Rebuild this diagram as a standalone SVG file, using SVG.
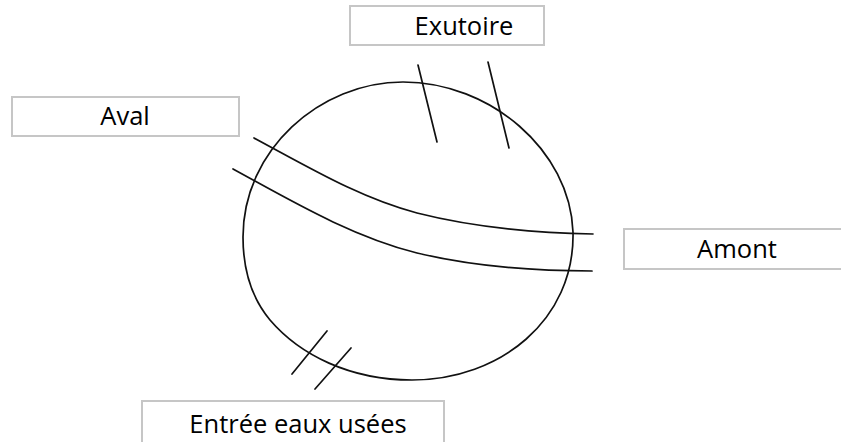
<svg xmlns="http://www.w3.org/2000/svg" width="841" height="442" viewBox="0 0 841 442">
<style>
.box{fill:#fff;stroke:#c6c6c6;stroke-width:2}
.lbl{font-family:"Open Sans","Liberation Sans",sans-serif;font-size:25.5px;fill:#000;text-anchor:middle}
.ln{fill:none;stroke:#111;stroke-width:1.7;stroke-linecap:round}
</style>
<rect width="841" height="442" fill="#fff"/>
<g id="site">
<path class="ln" d="M403,82 C490,82 570,150 573,232 C575,320 500,380 412,380 C350,380 300,355 270,320 C250,296 243,265 243,237 C243,150 320,82 403,82 Z"/>
</g>
<g id="connectors">
<path class="ln" d="M254,138 C310,168 360,198 417,213 C480,229 540,233 593,234"/>
<path class="ln" d="M233,169 C290,200 350,236 417,253 C480,268 540,271 592,271"/>
<line class="ln" x1="418" y1="65" x2="437" y2="142"/>
<line class="ln" x1="488" y1="62" x2="509" y2="148"/>
<line class="ln" x1="327" y1="331" x2="292" y2="374"/>
<line class="ln" x1="351" y1="348" x2="315" y2="389"/>
</g>
<g id="exutoire">
<rect class="box" x="350" y="6" width="194" height="39"/>
<text class="lbl" x="464" y="35">Exutoire</text>
</g>
<g id="aval">
<rect class="box" x="12" y="97" width="227" height="39"/>
<text class="lbl" x="125" y="125">Aval</text>
</g>
<g id="amont">
<rect class="box" x="624" y="229" width="227" height="40"/>
<text class="lbl" x="737" y="258">Amont</text>
</g>
<g id="entree">
<rect class="box" x="142" y="401" width="302" height="50"/>
<text class="lbl" x="298" y="433">Entrée eaux usées</text>
</g>
</svg>
